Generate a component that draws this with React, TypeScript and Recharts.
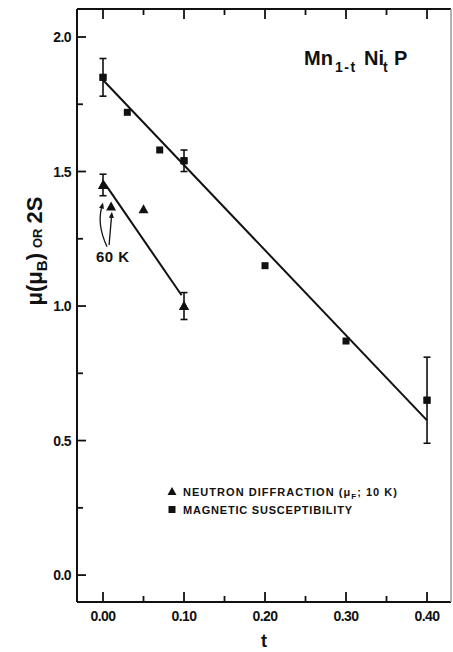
import {
  ComposedChart,
  ErrorBar,
  Line,
  ReferenceLine,
  Scatter,
  XAxis,
  YAxis,
} from "recharts";

// magnetic susceptibility (squares)
const suscT = [0, 0.03, 0.07, 0.1, 0.2, 0.3, 0.4];
const suscMu = [1.85, 1.72, 1.58, 1.54, 1.15, 0.87, 0.65];
const suscErr = [0.07, 0, 0, 0.04, 0, 0, 0.16];

// neutron diffraction (triangles)
const neutronT = [0, 0.01, 0.05, 0.1];
const neutronMu = [1.45, 1.37, 1.36, 1.0];
const neutronErr = [0.04, 0, 0, 0.05];

// drawn fit lines
const suscFitT = [0, 0.4];
const suscFitMu = [1.84, 0.575];
const neutronFitT = [0, 0.097];
const neutronFitMu = [1.465, 1.04];

// "60 K" arrows: start (t, mu) -> end (t, mu)
const arrowFromT = [0.005, 0.0075];
const arrowFromMu = [1.22, 1.227];
const arrowToT = [0, 0.011];
const arrowToMu = [1.385, 1.35];
const arrowBend = [-8, 0];

const xMajor = [0, 0.1, 0.2, 0.3, 0.4];
const xMinor = [0.05, 0.15, 0.25, 0.35];
const xLabels = ["0.00", "0.10", "0.20", "0.30", "0.40"];
const yMajor = [0, 0.5, 1, 1.5, 2];
const yMinor = [0.25, 0.75, 1.25, 1.75];
const yLabels = ["0.0", "0.5", "1.0", "1.5", "2.0"];

const X_DOMAIN: [number, number] = [-0.0321, 0.4296];
const Y_DOMAIN: [number, number] = [-0.1, 2.104];

const INK = "#111";
const FONT = "'Liberation Sans', Arial, sans-serif";

const susc = suscT.map((t, i) => ({ t, mu: suscMu[i], err: suscErr[i] }));
const neutron = neutronT.map((t, i) => ({ t, mu: neutronMu[i], err: neutronErr[i] }));
const suscWithErr = susc.filter((d) => d.err > 0);
const neutronWithErr = neutron.filter((d) => d.err > 0);
const suscFit = suscFitT.map((t, i) => ({ t, mu: suscFitMu[i] }));
const neutronFit = neutronFitT.map((t, i) => ({ t, mu: neutronFitMu[i] }));

function Square(props: any) {
  const { cx, cy } = props;
  return <rect x={cx - 3.5} y={cy - 3.5} width={7} height={7} fill={INK} />;
}

function Triangle(props: any) {
  const { cx, cy } = props;
  return <polygon points={`${cx},${cy - 5} ${cx - 5},${cy + 4} ${cx + 5},${cy + 4}`} fill={INK} />;
}

function BottomTick(props: any) {
  const { x, y, payload } = props;
  const i = xMajor.indexOf(payload.value);
  return (
    <g>
      <line x1={x} y1={y} x2={x} y2={y - (i >= 0 ? 10 : 6)} stroke={INK} strokeWidth={1.8} />
      {i >= 0 && (
        <text x={x} y={y + 19} textAnchor="middle" fontSize={14} fontWeight="bold" fontFamily={FONT} fill={INK} letterSpacing={-0.6}>
          {xLabels[i]}
        </text>
      )}
    </g>
  );
}

function TopTick(props: any) {
  const { x, y, payload } = props;
  const major = xMajor.indexOf(payload.value) >= 0;
  return <line x1={x} y1={y} x2={x} y2={y + (major ? 10 : 6)} stroke={INK} strokeWidth={1.8} />;
}

function LeftTick(props: any) {
  const { x, y, payload } = props;
  const i = yMajor.indexOf(payload.value);
  return (
    <g>
      <line x1={x} y1={y} x2={x + (i >= 0 ? 9 : 6)} y2={y} stroke={INK} strokeWidth={1.8} />
      {i >= 0 && (
        <text x={x - 6} y={y + 5} textAnchor="end" fontSize={14} fontWeight="bold" fontFamily={FONT} fill={INK} letterSpacing={-0.6}>
          {yLabels[i]}
        </text>
      )}
    </g>
  );
}

function arrowShape(bend: number) {
  return (p: any) => {
    const { x1, y1, x2, y2 } = p;
    const dx = x2 - x1;
    const dy = y2 - y1;
    const len = Math.hypot(dx, dy) || 1;
    const cx = (x1 + x2) / 2 + (-dy / len) * bend;
    const cy = (y1 + y2) / 2 + (dx / len) * bend;
    const tl = Math.hypot(x2 - cx, y2 - cy) || 1;
    const ux = (x2 - cx) / tl;
    const uy = (y2 - cy) / tl;
    const bx = x2 - ux * 6;
    const by = y2 - uy * 6;
    return (
      <g>
        <path d={`M${x1},${y1} Q${cx},${cy} ${bx},${by}`} fill="none" stroke={INK} strokeWidth={1.3} />
        <polygon points={`${x2},${y2} ${bx - uy * 2.5},${by + ux * 2.5} ${bx + uy * 2.5},${by - ux * 2.5}`} fill={INK} />
      </g>
    );
  };
}

export default function App() {
  return (
    <div style={{ position: "absolute", left: 0, top: 0, width: 453, height: 652, background: "#fff" }}>
      <ComposedChart width={453} height={652} margin={{ top: 0, right: 0, bottom: 0, left: 0 }}>
        <XAxis
          dataKey="t"
          type="number"
          domain={X_DOMAIN}
          allowDataOverflow
          ticks={[...xMajor, ...xMinor]}
          interval={0}
          height={50}
          tickSize={0}
          tickMargin={0}
          tickLine={false}
          axisLine={{ stroke: INK, strokeWidth: 2 }}
          tick={(p: any) => <BottomTick {...p} />}
        />
        <XAxis
          xAxisId="top"
          orientation="top"
          dataKey="t"
          type="number"
          domain={X_DOMAIN}
          allowDataOverflow
          ticks={[...xMajor, ...xMinor]}
          interval={0}
          height={9}
          tickSize={0}
          tickMargin={0}
          tickLine={false}
          axisLine={{ stroke: INK, strokeWidth: 2 }}
          tick={(p: any) => <TopTick {...p} />}
        />
        <YAxis
          type="number"
          domain={Y_DOMAIN}
          allowDataOverflow
          ticks={[...yMajor, ...yMinor]}
          interval={0}
          width={77}
          tickSize={0}
          tickMargin={0}
          tickLine={false}
          axisLine={{ stroke: INK, strokeWidth: 2 }}
          tick={(p: any) => <LeftTick {...p} />}
        />
        <YAxis
          yAxisId="right"
          orientation="right"
          type="number"
          domain={Y_DOMAIN}
          allowDataOverflow
          width={2}
          tick={false}
          tickLine={false}
          axisLine={{ stroke: "#9a9a9a", strokeWidth: 1.5 }}
        />

        <Line data={suscFit} dataKey="mu" stroke={INK} strokeWidth={2} dot={false} isAnimationActive={false} />
        <Line data={neutronFit} dataKey="mu" stroke={INK} strokeWidth={2} dot={false} isAnimationActive={false} />

        <Scatter data={suscWithErr} dataKey="mu" shape={Square} isAnimationActive={false}>
          <ErrorBar dataKey="err" direction="y" width={3.5} stroke={INK} strokeWidth={1.6} />
        </Scatter>
        <Scatter data={neutronWithErr} dataKey="mu" shape={Triangle} isAnimationActive={false}>
          <ErrorBar dataKey="err" direction="y" width={3.5} stroke={INK} strokeWidth={1.6} />
        </Scatter>
        <Scatter data={susc} dataKey="mu" shape={Square} isAnimationActive={false} />
        <Scatter data={neutron} dataKey="mu" shape={Triangle} isAnimationActive={false} />

        {arrowFromT.map((t0, i) => (
          <ReferenceLine
            key={i}
            segment={[
              { x: t0, y: arrowFromMu[i] },
              { x: arrowToT[i], y: arrowToMu[i] },
            ]}
            ifOverflow="visible"
            shape={arrowShape(arrowBend[i])}
          />
        ))}
      </ComposedChart>

      <svg
        width={453}
        height={652}
        style={{ position: "absolute", left: 0, top: 0, pointerEvents: "none" }}
        fontFamily={FONT}
        fill={INK}
      >
        <text x={305} y={65} fontSize={20} fontWeight="bold">
          <tspan x={304}>Mn</tspan>
          <tspan x={335} dy={7} fontSize={14} letterSpacing={1.5}>1-t</tspan>
          <tspan x={364} dy={-7}>Ni</tspan>
          <tspan x={383} dy={7} fontSize={14}>t</tspan>
          <tspan x={394} dy={-7}>P</tspan>
        </text>

        <text transform="translate(42,251) rotate(-90)" textAnchor="middle" fontSize={22} fontWeight="bold">
          μ(μ<tspan fontSize={15} dy={5}>B</tspan>
          <tspan dy={-5}>)</tspan>
          <tspan fontSize={13} dx={5}>OR</tspan>
          <tspan dx={5}>2S</tspan>
        </text>

        <text x={96} y={262} fontSize={15} fontWeight="bold" letterSpacing={0.5}>
          60 K
        </text>

        <text x={264} y={647} fontSize={18} fontWeight="bold" textAnchor="middle">
          t
        </text>

        <polygon points="172,487 167.5,495 176.5,495" />
        <text x={183} y={496} fontSize={11} fontWeight="bold" textLength={214} lengthAdjust="spacing">
          NEUTRON DIFFRACTION (μ<tspan fontSize={8} dy={3}>F</tspan>
          <tspan dy={-3}>; 10 K)</tspan>
        </text>
        <rect x={168.5} y={506} width={7} height={7} />
        <text x={183} y={514} fontSize={11} fontWeight="bold" textLength={169} lengthAdjust="spacing">
          MAGNETIC SUSCEPTIBILITY
        </text>
      </svg>
    </div>
  );
}
